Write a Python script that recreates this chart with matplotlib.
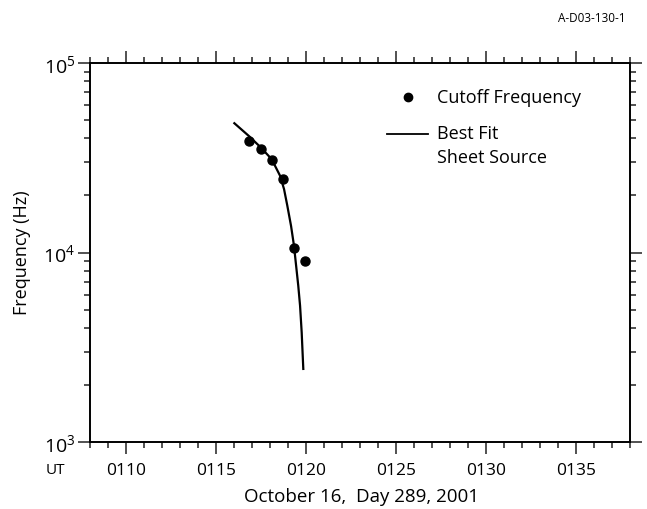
import numpy as np
import matplotlib.pyplot as plt
from matplotlib.ticker import FixedLocator, FuncFormatter, LogLocator, NullFormatter

plt.rcParams['font.family'] = ['Open Sans', 'DejaVu Sans']
plt.rcParams['mathtext.fontset'] = 'custom'
plt.rcParams['mathtext.rm'] = 'Open Sans'

# tempo em minutos do dia (01:16.85 -> 76.85)
cutoff_time = [76.85, 77.48, 78.09, 78.74, 79.33, 79.96]
cutoff_freq = [38600, 35200, 30700, 24300, 10600, 9000]

fit_time = [76.02, 76.85, 77.48, 78.09, 78.56, 78.78, 78.96, 79.17, 79.33, 79.57, 79.67, 79.76, 79.85]
fit_freq = [48100, 41000, 35900, 31100, 25400, 21600, 17700, 13800, 10900, 6680, 5240, 3790, 2430]

x_major = [70, 75, 80, 85, 90, 95]
x_lim = (68, 98)
y_lim = (1e3, 1e5)

fig = plt.figure(figsize=(6.47, 5.10), dpi=100)
ax = fig.add_axes([90 / 647, 67 / 510, 540 / 647, 379 / 510])

ax.plot(fit_time, fit_freq, color='black', linewidth=1.6)
ax.plot(cutoff_time, cutoff_freq, 'o', color='black', markersize=6.5)

ax.set_yscale('log')
ax.set_xlim(*x_lim)
ax.set_ylim(*y_lim)

# eixo x: horas UT
ax.xaxis.set_major_locator(FixedLocator(x_major))
ax.xaxis.set_minor_locator(FixedLocator(np.arange(x_lim[0], x_lim[1] + 1, 1)))
ax.xaxis.set_major_formatter(FuncFormatter(lambda v, p: f"{int(v) // 60:02d}{int(v) % 60:02d}"))

ax.yaxis.set_major_locator(LogLocator(base=10, numticks=5))
ax.yaxis.set_minor_locator(LogLocator(base=10, subs=np.arange(2, 10), numticks=10))
ax.yaxis.set_minor_formatter(NullFormatter())

for s in ax.spines.values():
    s.set_linewidth(1.4)

ax.tick_params(which='both', direction='out', top=True, right=True, width=1.1, color='#222222')
ax.tick_params(which='major', length=8.5, labelsize=12.5, pad=6)
ax.tick_params(which='minor', length=4)
ax.tick_params(axis='y', which='major', labelsize=14, pad=2)

# rótulos posicionados em pixels
fig.text(22 / 647, 1 - 253 / 510, 'Frequency (Hz)', fontsize=13, rotation=90, ha='center', va='center')
fig.text(362 / 647, 1 - 497 / 510, 'October 16,  Day 289, 2001', fontsize=13.5, ha='center', va='center')
fig.text(55.5 / 647, 1 - 471 / 510, 'UT', fontsize=11, ha='center', va='center')
fig.text(626 / 647, 1 - 18 / 510, 'A-D03-130-1', fontsize=8.5, ha='right', va='center')

# legenda desenhada à mão
ax.plot([0.589], [0.910], 'o', color='black', markersize=6, transform=ax.transAxes, clip_on=False)
ax.plot([0.550, 0.626], [0.8127, 0.8127], color='black', linewidth=1.3, transform=ax.transAxes)
ax.text(0.6426, 0.910, 'Cutoff Frequency', fontsize=13, ha='left', va='center', transform=ax.transAxes)
ax.text(0.6426, 0.815, 'Best Fit', fontsize=13, ha='left', va='center', transform=ax.transAxes)
ax.text(0.6426, 0.752, 'Sheet Source', fontsize=13, ha='left', va='center', transform=ax.transAxes)

plt.savefig('out.png', dpi=100)
